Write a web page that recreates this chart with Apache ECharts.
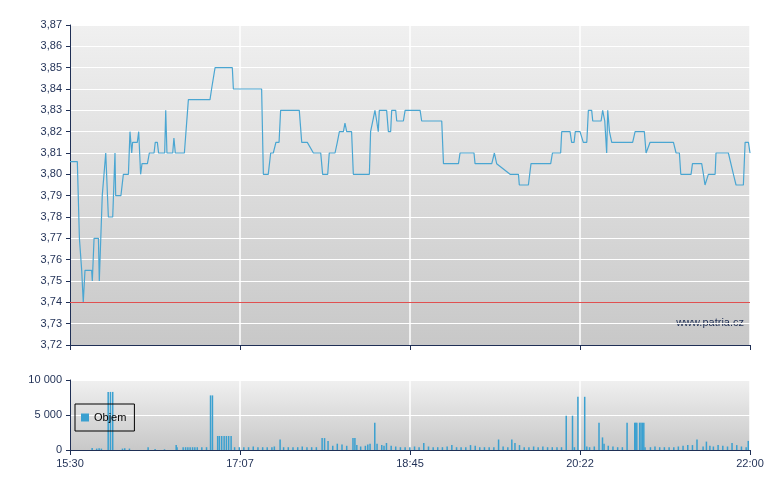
<!DOCTYPE html>
<html><head><meta charset="utf-8">
<script src="https://cdn.jsdelivr.net/npm/echarts@6/dist/echarts.min.js"></script>
<style>html,body{margin:0;padding:0;background:#fff}#c{width:780px;height:490px}</style>
</head><body><div id="c"></div>
<script>
// minutes after 15:30
const priceTimes = [0,4.2,5.4,6.7,7.6,8.6,12.4,12.8,13.8,16.3,16.8,17.4,18.5,19.5,20.5,22.0,24.5,25.8,26.2,29.2,30.6,33.5,34.4,35.4,35.9,38.6,39.4,40.5,41.3,44.4,45.5,48.2,48.9,50.1,50.8,54.3,54.9,55.6,58.9,59.6,60.4,65.6,67.9,80.3,81.2,83.2,93.1,93.7,109.9,110.9,113.7,115.1,116.6,118.1,119.9,120.8,131.5,132.9,136.1,139.6,143.8,144.9,147.8,148.7,152.0,153.3,154.5,156.8,157.7,158.7,161.5,162.5,171.7,172.4,174.9,175.9,176.8,177.4,181.6,182.6,183.9,184.5,186.8,187.4,191.2,192.2,200.8,201.7,213.2,214.2,222.8,223.7,231.7,232.3,241.9,243.4,244.7,252.4,253.3,257.2,257.7,262.9,264.4,275.7,276.7,281.4,282.0,286.8,287.7,289.1,289.8,292.5,294.4,296.4,297.3,299.2,299.8,304.6,305.5,306.7,307.8,308.4,309.4,310.7,322.7,324.1,329.4,330.4,332.7,346.1,347.6,349.5,350.3,356.2,357.0,362.3,363.3,364.2,365.2,366.1,370.0,370.5,377.6,380.5,382.0,386.2,387.2,389.1,390];
const priceValues = [3.806,3.806,3.77,3.755,3.74,3.755,3.755,3.75,3.77,3.77,3.75,3.75,3.79,3.79,3.81,3.78,3.78,3.81,3.79,3.79,3.80,3.80,3.82,3.81,3.815,3.815,3.82,3.80,3.805,3.805,3.81,3.81,3.815,3.815,3.81,3.81,3.83,3.81,3.81,3.817,3.81,3.81,3.835,3.835,3.84,3.85,3.85,3.84,3.84,3.80,3.80,3.81,3.81,3.815,3.815,3.83,3.83,3.815,3.815,3.81,3.81,3.80,3.80,3.81,3.81,3.815,3.82,3.82,3.824,3.82,3.82,3.80,3.80,3.82,3.83,3.825,3.82,3.83,3.83,3.82,3.82,3.83,3.83,3.825,3.825,3.83,3.83,3.825,3.825,3.805,3.805,3.81,3.81,3.805,3.805,3.81,3.805,3.80,3.80,3.80,3.795,3.795,3.805,3.805,3.81,3.81,3.82,3.82,3.815,3.815,3.82,3.82,3.815,3.815,3.83,3.83,3.825,3.825,3.83,3.825,3.81,3.83,3.82,3.815,3.815,3.82,3.82,3.81,3.815,3.815,3.81,3.81,3.80,3.80,3.805,3.805,3.80,3.795,3.795,3.80,3.80,3.81,3.81,3.80,3.795,3.795,3.815,3.815,3.81,3.815];
const volTimes = [12.7,15.3,16.7,18.0,21.9,23.2,24.5,30.1,31.4,34.1,44.8,48.8,54.2,60.9,61.4,64.9,66.3,67.6,68.9,70.3,71.6,73.0,75.6,78.3,80.6,81.7,84.7,85.7,87.0,88.4,89.7,91.0,92.4,94.4,97.1,99.7,102.4,105.1,107.8,110.5,113.1,115.8,117.2,120.5,122.5,125.2,127.9,130.6,133.2,135.9,138.6,141.3,144.6,146.0,148.0,150.7,153.3,156.0,158.7,162.3,163.4,164.5,166.7,169.4,170.8,172.1,174.8,176.1,178.8,180.1,181.5,184.2,186.8,189.5,192.2,194.9,197.6,200.2,202.9,205.6,208.3,210.9,213.6,216.3,219.0,221.7,224.3,227.0,229.7,232.4,235.0,237.7,240.4,243.1,245.8,248.4,251.1,253.4,255.2,257.8,260.5,263.2,265.9,268.5,271.2,273.9,276.6,279.3,281.9,284.6,288.2,289.3,291.3,295.2,296.4,298.0,300.7,303.4,305.4,306.3,308.7,311.4,314.1,316.8,319.5,323.9,324.5,325.1,326.7,327.5,328.3,329.1,329.8,332.9,335.5,338.2,340.9,343.6,346.3,348.9,351.6,354.3,357.0,359.6,363.1,365.0,367.0,369.0,371.7,374.4,377.1,379.7,382.4,385.1,387.8,389];
const volValues = [300,200,250,200,8300,8300,8300,200,250,200,400,150,100,700,400,400,400,400,400,400,400,400,400,400,7800,7800,2000,2000,2000,2000,2000,2000,2000,400,400,400,400,500,400,400,400,400,500,1500,400,400,400,400,500,400,400,400,1700,1700,1300,600,900,800,600,1700,1700,700,500,600,800,900,3900,900,700,600,1000,600,500,400,400,400,500,400,1000,500,400,400,400,500,700,400,400,400,700,600,400,400,400,400,1500,500,400,1500,1000,700,400,400,500,400,500,400,400,400,400,4900,4900,400,7600,7600,500,400,500,3900,1800,900,600,500,400,400,3900,3900,3900,3900,3900,3900,3900,3900,400,400,500,400,400,400,400,500,600,700,700,1500,500,1200,600,500,700,600,500,1000,700,500,400,1300];
const xTickLabels = ['15:30','17:07','18:45','20:22','22:00'];
const priceTicks = {min:3.72,max:3.87,interval:0.01};
const volTicks = {min:0,max:10000,interval:5000};
const refPrice = 3.74;

const price = priceTimes.map((t,i)=>[t,priceValues[i]]);
const vol = volTimes.map((t,i)=>[t,volValues[i]]);
const axisCol = '#1f2f55';
const bg = {type:'linear',x:0,y:0,x2:0,y2:1,colorStops:[{offset:0,color:'#f0f0f0'},{offset:1,color:'#c8c8c8'}]};
const chart = echarts.init(document.getElementById('c'));
chart.setOption({
  animation:false,
  grid:[{left:70,right:30,top:25,height:320,show:true,backgroundColor:bg,borderWidth:0},
        {left:70,right:30,top:380,height:70,show:true,backgroundColor:bg,borderWidth:0}],
  legend:{show:true,left:75,top:404,orient:'vertical',data:['Objem'],itemWidth:8,itemHeight:8,
    borderColor:'#000',borderWidth:1,padding:[8,8,8,6],textStyle:{fontSize:11,color:'#000',fontFamily:'Arial'},icon:'rect'},
  xAxis:[
   {type:'value',gridIndex:0,min:0,max:390,interval:97.5,axisLabel:{show:false},
    axisLine:{lineStyle:{color:axisCol}},axisTick:{lineStyle:{color:axisCol},length:5},splitLine:{lineStyle:{color:'#fff',width:1.5}}},
   {type:'value',gridIndex:1,min:0,max:390,interval:97.5,
    axisLabel:{color:'#1f2f55',fontSize:11,fontFamily:'Arial',formatter:(v)=>xTickLabels[Math.round(v/97.5)]},
    axisLine:{lineStyle:{color:axisCol}},axisTick:{lineStyle:{color:axisCol},length:5},splitLine:{lineStyle:{color:'#fff',width:1.5}}}
  ],
  yAxis:[
   {type:'value',gridIndex:0,min:priceTicks.min,max:priceTicks.max,interval:priceTicks.interval,
    axisLabel:{color:'#1f2f55',fontSize:11,fontFamily:'Arial',formatter:v=>v.toFixed(2).replace('.',',')},
    axisLine:{show:true,lineStyle:{color:axisCol}},axisTick:{show:true,length:4,lineStyle:{color:axisCol}},splitLine:{lineStyle:{color:'#fff',width:1.2}}},
   {type:'value',gridIndex:1,min:volTicks.min,max:volTicks.max,interval:volTicks.interval,
    axisLabel:{color:'#1f2f55',fontSize:11,fontFamily:'Arial',formatter:v=>v===10000?'10 000':v===5000?'5 000':'0'},
    axisLine:{show:true,lineStyle:{color:axisCol}},axisTick:{show:true,length:4,lineStyle:{color:axisCol}},splitLine:{lineStyle:{color:'#fff',width:1.2}}}
  ],
  series:[
   {type:'line',xAxisIndex:0,yAxisIndex:0,data:price,showSymbol:false,lineStyle:{color:'#4aa6d2',width:1.2},
    markLine:{symbol:'none',silent:true,label:{show:false},lineStyle:{color:'#e05050',type:'solid',width:1},data:[{yAxis:refPrice}]}},
   {type:'bar',name:'Objem',xAxisIndex:1,yAxisIndex:1,data:vol,barWidth:1.5,itemStyle:{color:'#3aa0d0'}}
  ],
  graphic:[{type:'text',right:36,top:317,style:{text:'www.patria.cz',fill:'#1f2f55',font:'11px Arial'}}]
});
</script></body></html>
